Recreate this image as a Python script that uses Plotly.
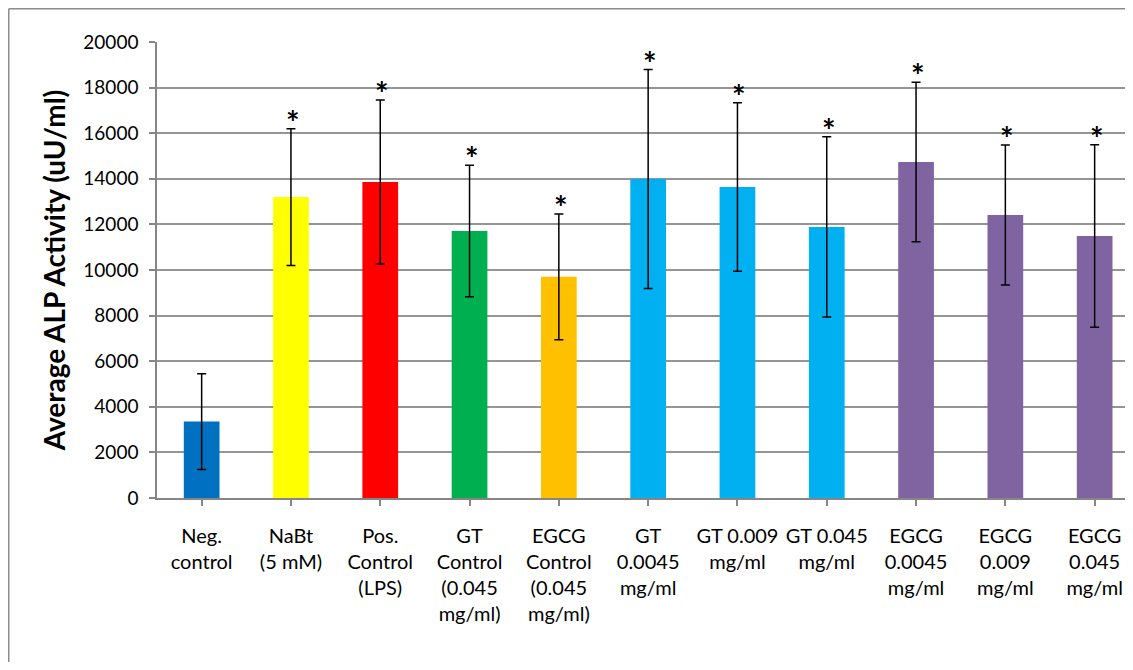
import plotly.graph_objects as go

categories = [
    "Neg.<br>control", "NaBt<br>(5 mM)", "Pos.<br>Control<br>(LPS)",
    "GT<br>Control<br>(0.045<br>mg/ml)", "EGCG<br>Control<br>(0.045<br>mg/ml)",
    "GT<br>0.0045<br>mg/ml", "GT 0.009<br>mg/ml", "GT 0.045<br>mg/ml",
    "EGCG<br>0.0045<br>mg/ml", "EGCG<br>0.009<br>mg/ml", "EGCG<br>0.045<br>mg/ml",
]
means = [3350, 13200, 13860, 11710, 9700, 13990, 13640, 11890, 14740, 12410, 11490]
errors = [2100, 3000, 3600, 2880, 2760, 4800, 3700, 3950, 3500, 3070, 4000]
significant = [False, True, True, True, True, True, True, True, True, True, True]
colors = ["#0070C0", "#FFFF00", "#FF0000", "#00B050", "#FFC000",
          "#00B0F0", "#00B0F0", "#00B0F0", "#8064A2", "#8064A2", "#8064A2"]
y_ticks = [0, 2000, 4000, 6000, 8000, 10000, 12000, 14000, 16000, 18000, 20000]
y_tick_labels = [str(v) for v in y_ticks]

# page has an 8px body margin; figure sized to fit the window exactly
W, H = 1117, 654
L, R, T, B = 149, 0, 34, 164
pw = W - L - R
ph = H - T - B

fig = go.Figure()
fig.add_trace(go.Bar(
    x=list(range(len(categories))), y=means,
    marker=dict(color=colors, line=dict(width=0)),
    error_y=dict(type="data", array=errors, visible=True,
                 color="black", thickness=1.5, width=4.5),
    width=0.4, showlegend=False,
))

annotations = []
for i, (m, e, s) in enumerate(zip(means, errors, significant)):
    if s:
        annotations.append(dict(x=i, y=m + e, xref="x", yref="y", text="<b>*</b>",
                                showarrow=False, yanchor="bottom", yshift=-15,
                                xshift=2,
                                font=dict(family="Lato", size=32, color="black")))

def px2x(px):
    return (px - L) / pw

def py2y(py):
    return (H - B - py) / ph

shapes = [
    dict(type="line", xref="paper", yref="paper", x0=px2x(0.75), x1=px2x(0.75),
         y0=py2y(H + 5), y1=py2y(0.75), line=dict(color="#8c8c8c", width=1.5)),
    dict(type="line", xref="paper", yref="paper", x0=px2x(0.75), x1=px2x(W + 5),
         y0=py2y(0.75), y1=py2y(0.75), line=dict(color="#8c8c8c", width=1.5)),
]

fig.update_layout(
    width=W, height=H,
    margin=dict(l=L, r=R, t=T, b=B, pad=0),
    paper_bgcolor="white", plot_bgcolor="white",
    font=dict(family="Lato", size=20, color="black"),
    bargap=0.6,
    annotations=annotations,
    shapes=shapes,
    xaxis=dict(
        range=[-0.5, -0.5 + pw / 89.3],
        tickmode="array", tickvals=list(range(len(categories))),
        ticktext=categories,
        ticks="outside", tickson="boundaries", ticklen=6,
        tickcolor="#868686", tickwidth=1.5,
        showline=True, linecolor="#868686", linewidth=1.5,
        showgrid=False, zeroline=False,
        tickfont=dict(family="Lato", size=20, color="black"),
        tickangle=0, ticklabelstandoff=13,
    ),
    yaxis=dict(
        range=[0, 20000],
        tickmode="array", tickvals=y_ticks, ticktext=y_tick_labels,
        ticks="outside", ticklen=6, tickcolor="#868686", tickwidth=1.5,
        showline=True, linecolor="#868686", linewidth=1.5,
        showgrid=True, gridcolor="#959595", gridwidth=1.5,
        zeroline=False, ticklabelstandoff=7,
        tickfont=dict(family="Lato", size=19, color="black"),
        title=dict(text="<b>Average ALP Activity (uU/ml)</b>",
                   font=dict(family="Lato", size=28, color="black"),
                   standoff=10),
    ),
)

fig.write_html("out.html")
